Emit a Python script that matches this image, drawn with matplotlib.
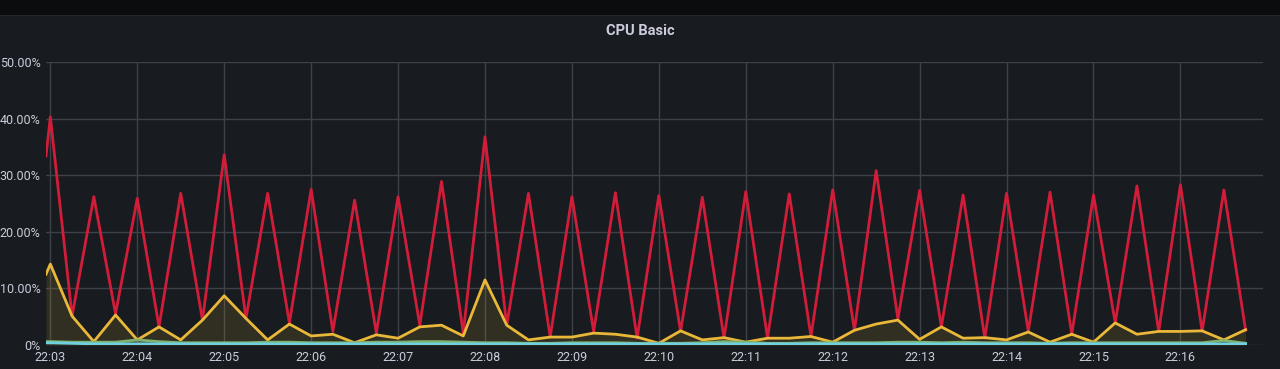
import matplotlib
matplotlib.use("Agg")
import matplotlib.pyplot as plt
import matplotlib.dates as mdates
import pandas as pd

# Sample times: one partial point just before 22:03, then every 15 s up to 22:16:45
first_time = "2020-01-01 22:02:57"
grid_start = "2020-01-01 22:03:00"
grid_end = "2020-01-01 22:16:45"
x_left = "2020-01-01 22:02:57"
x_right = "2020-01-01 22:16:57"

# CPU usage in percent
red_values = [33.4,
              40.3, 5.1, 26.2, 5.5, 25.9, 3.2, 26.8, 4.4,
              33.6, 4.7, 26.8, 3.9, 27.5, 2.4, 25.6, 2.1,
              26.2, 3.5, 28.9, 2.1, 36.8, 3.5, 26.8, 1.4,
              26.2, 2.4, 26.9, 1.2, 26.4, 2.4, 26.1, 1.2,
              27.1, 1.2, 26.7, 1.5, 27.4, 2.6, 30.8, 4.6,
              27.3, 3.2, 26.5, 1.2, 26.8, 2.4, 27.0, 1.9,
              26.5, 3.9, 28.1, 2.4, 28.3, 2.4, 27.4, 2.6]

yellow_values = [12.5,
                 14.3, 5.1, 0.6, 5.3, 0.9, 3.2, 0.9, 4.4,
                 8.7, 4.7, 0.9, 3.7, 1.6, 1.9, 0.4, 1.8,
                 1.2, 3.2, 3.5, 1.6, 11.5, 3.5, 0.9, 1.4,
                 1.4, 2.1, 1.9, 1.4, 0.3, 2.5, 0.9, 1.3,
                 0.5, 1.2, 1.2, 1.5, 0.5, 2.6, 3.7, 4.4,
                 1.0, 3.2, 1.2, 1.3, 0.9, 2.3, 0.5, 1.9,
                 0.5, 3.9, 1.9, 2.4, 2.4, 2.5, 0.9, 2.7]

green_values = [0.6,
                0.6, 0.5, 0.5, 0.5, 0.9, 0.6, 0.4, 0.4,
                0.4, 0.4, 0.5, 0.5, 0.4, 0.4, 0.4, 0.5,
                0.5, 0.6, 0.6, 0.5, 0.4, 0.4, 0.3, 0.3,
                0.4, 0.4, 0.4, 0.3, 0.3, 0.3, 0.4, 0.6,
                0.5, 0.3, 0.3, 0.4, 0.4, 0.4, 0.4, 0.5,
                0.5, 0.4, 0.5, 0.4, 0.4, 0.4, 0.3, 0.4,
                0.4, 0.4, 0.4, 0.4, 0.4, 0.4, 0.8, 0.3]

cyan_values = [0.4,
               0.4, 0.3, 0.2, 0.2, 0.2, 0.2, 0.2, 0.2,
               0.2, 0.2, 0.2, 0.2, 0.2, 0.2, 0.2, 0.2,
               0.2, 0.2, 0.2, 0.2, 0.2, 0.2, 0.2, 0.2,
               0.2, 0.2, 0.2, 0.2, 0.2, 0.2, 0.2, 0.2,
               0.2, 0.2, 0.2, 0.2, 0.2, 0.2, 0.2, 0.2,
               0.2, 0.2, 0.2, 0.2, 0.2, 0.2, 0.2, 0.2,
               0.2, 0.2, 0.2, 0.2, 0.2, 0.2, 0.2, 0.2]

y_ticks = [0, 10, 20, 30, 40, 50]
y_tick_labels = ["0%", "10.00%", "20.00%", "30.00%", "40.00%", "50.00%"]
title = "CPU Basic"

panel_bg = "#181b1f"
text_color = "#ccccdc"
grid_color = "#3e4147"


def main():
    times = [pd.Timestamp(first_time)] + list(pd.date_range(grid_start, grid_end, freq="15s"))

    plt.rcParams['font.family'] = ['Roboto', 'DejaVu Sans']
    fig = plt.figure(figsize=(12.8, 3.69), dpi=100, facecolor=panel_bg)

    # dark strip at the very top of the screenshot
    fig.patches.append(plt.Rectangle((0, 369 - 15), 1280, 15, transform=None,
                                     facecolor="#0b0c0e", edgecolor="none"))
    fig.patches.append(plt.Rectangle((0, 369 - 16), 1280, 1, transform=None,
                                     facecolor="#22252b", edgecolor="none"))

    ax = fig.add_axes([46 / 1280, 24 / 369, (1263 - 46) / 1280, (345 - 62) / 369])
    ax.set_facecolor(panel_bg)

    ax.fill_between(times, yellow_values, 0, color="#eab839", alpha=0.12, linewidth=0)
    ax.fill_between(times, green_values, 0, color="#7eb26d", alpha=0.1, linewidth=0)
    ax.plot(times, red_values, color="#d21d3a", linewidth=2)
    ax.plot(times, yellow_values, color="#eab839", linewidth=2)
    ax.plot(times, green_values, color="#7eb26d", linewidth=2)
    ax.plot(times, cyan_values, color="#6ed0e0", linewidth=2)

    ax.set_xlim(pd.Timestamp(x_left), pd.Timestamp(x_right))
    ax.set_ylim(0, 50)
    ax.set_yticks(y_ticks)
    ax.set_yticklabels(y_tick_labels)
    ax.xaxis.set_major_locator(mdates.MinuteLocator())
    ax.xaxis.set_major_formatter(mdates.DateFormatter("%H:%M"))

    ax.grid(True, color=grid_color, linewidth=1)
    ax.set_axisbelow(True)
    for s in ax.spines.values():
        s.set_visible(False)
    ax.tick_params(axis="both", length=0, colors=text_color, labelsize=9)
    ax.tick_params(axis="y", pad=4)
    ax.tick_params(axis="x", pad=4)

    fig.text(0.5, 1 - 31 / 369, title, ha="center", va="center", color=text_color,
             fontsize=10.5, fontweight="bold")

    fig.savefig("out.png", dpi=100, facecolor=panel_bg)
    plt.close(fig)


if __name__ == '__main__':
    main()
